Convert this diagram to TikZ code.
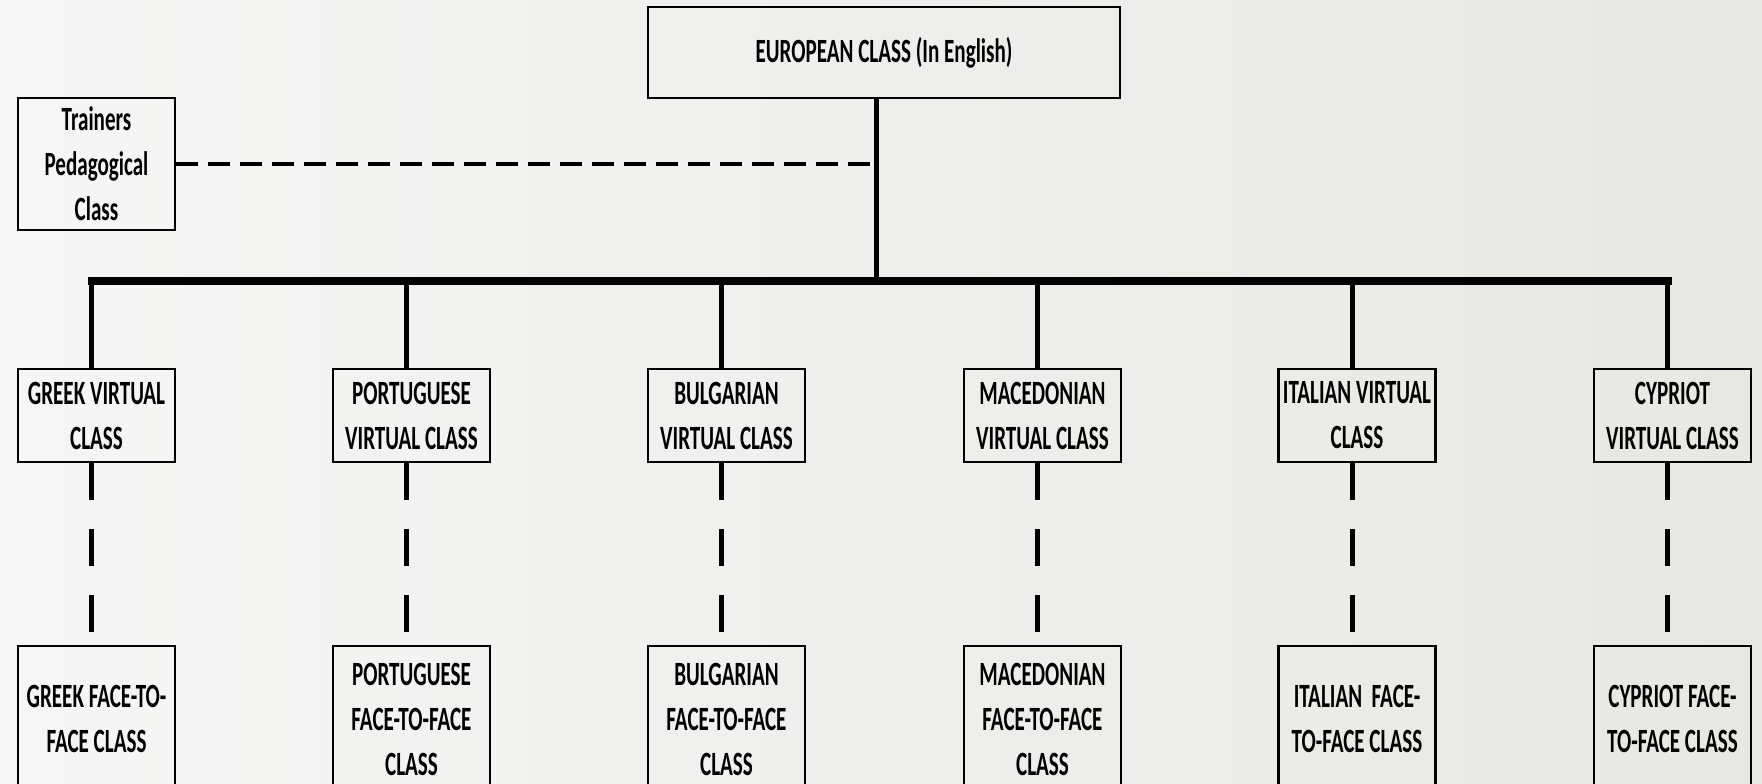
\documentclass[tikz,border=0pt]{standalone}
\usepackage{fontspec}
\setmainfont{Carlito}[FakeStretch=0.62]

\begin{document}
\begin{tikzpicture}[
    x=0.5pt, y=-0.5pt,
    box/.style={
        rectangle,
        draw,
        line width=1.1pt,
        inner sep=0pt,
        align=center,
        font=\fontsize{17}{22.5}\selectfont\bfseries
    },
    virtual/.style={
        box,
        minimum width=78.5pt,
        minimum height=46.5pt
    },
    facebox/.style={
        box,
        minimum width=78.5pt,
        minimum height=73pt
    },
    drop/.style={
        line width=2.5pt
    },
    bus/.style={
        line width=4pt,
        line cap=rect
    },
    link/.style={
        line width=2.5pt,
        dash pattern=on 18.5pt off 14.5pt
    },
    tlink/.style={
        line width=2pt,
        dash pattern=on 11pt off 5pt
    }
]

% Background
\shade[left color={rgb,255:red,246;green,246;blue,246},
       right color={rgb,255:red,231;green,232;blue,227}]
    (0,0) rectangle (1762,783);
\useasboundingbox (0,0) rectangle (1762,783);

% Nodes
\node[box, minimum width=236pt, minimum height=45.5pt] (eu) at (884,52.5) {EUROPEAN CLASS (In English)};
\node[box, minimum width=78.5pt, minimum height=66pt] (tr) at (96.5,164) {Trainers\\Pedagogical\\Class};

\coordinate (hub) at (876,281);

\node[virtual] (v1) at (96.5,415.5) {GREEK VIRTUAL\\CLASS};
\node[virtual] (v2) at (411.5,415.5) {PORTUGUESE\\VIRTUAL CLASS};
\node[virtual] (v3) at (726.5,415.5) {BULGARIAN\\VIRTUAL CLASS};
\node[virtual] (v4) at (1042.5,415.5) {MACEDONIAN\\VIRTUAL CLASS};
\node[virtual] (v5) at (1357,415.5) {ITALIAN VIRTUAL\\CLASS};
\node[virtual] (v6) at (1672.5,415.5) {CYPRIOT\\VIRTUAL CLASS};

\node[facebox] (f1) at (96.5,719) {GREEK FACE-TO-\\FACE CLASS};
\node[facebox] (f2) at (411.5,719) {PORTUGUESE\\FACE-TO-FACE\\CLASS};
\node[facebox] (f3) at (726.5,719) {BULGARIAN\\FACE-TO-FACE\\CLASS};
\node[facebox] (f4) at (1042.5,719) {MACEDONIAN\\FACE-TO-FACE\\CLASS};
\node[facebox] (f5) at (1357,719) {ITALIAN\ \ FACE-\\TO-FACE CLASS};
\node[facebox] (f6) at (1672.5,719) {CYPRIOT FACE-\\TO-FACE CLASS};

% Edges
\draw[drop] (eu.south -| hub) -- (hub);
\draw[tlink] (tr.east) -- (tr.east -| hub);

\draw[bus] ([xshift=-2.5pt]v1.north |- hub) -- ([xshift=-2.5pt]v6.north |- hub);

\draw[drop] ([xshift=-2.5pt]v1.north |- hub) -- ([xshift=-2.5pt]v1.north);
\draw[drop] ([xshift=-2.5pt]v2.north |- hub) -- ([xshift=-2.5pt]v2.north);
\draw[drop] ([xshift=-2.5pt]v3.north |- hub) -- ([xshift=-2.5pt]v3.north);
\draw[drop] ([xshift=-2.5pt]v4.north |- hub) -- ([xshift=-2.5pt]v4.north);
\draw[drop] ([xshift=-2.5pt]v5.north |- hub) -- ([xshift=-2.5pt]v5.north);
\draw[drop] ([xshift=-2.5pt]v6.north |- hub) -- ([xshift=-2.5pt]v6.north);

\draw[link] ([xshift=-2.5pt]v1.south) -- ([xshift=-2.5pt]f1.north);
\draw[link] ([xshift=-2.5pt]v2.south) -- ([xshift=-2.5pt]f2.north);
\draw[link] ([xshift=-2.5pt]v3.south) -- ([xshift=-2.5pt]f3.north);
\draw[link] ([xshift=-2.5pt]v4.south) -- ([xshift=-2.5pt]f4.north);
\draw[link] ([xshift=-2.5pt]v5.south) -- ([xshift=-2.5pt]f5.north);
\draw[link] ([xshift=-2.5pt]v6.south) -- ([xshift=-2.5pt]f6.north);

\end{tikzpicture}
\end{document}
